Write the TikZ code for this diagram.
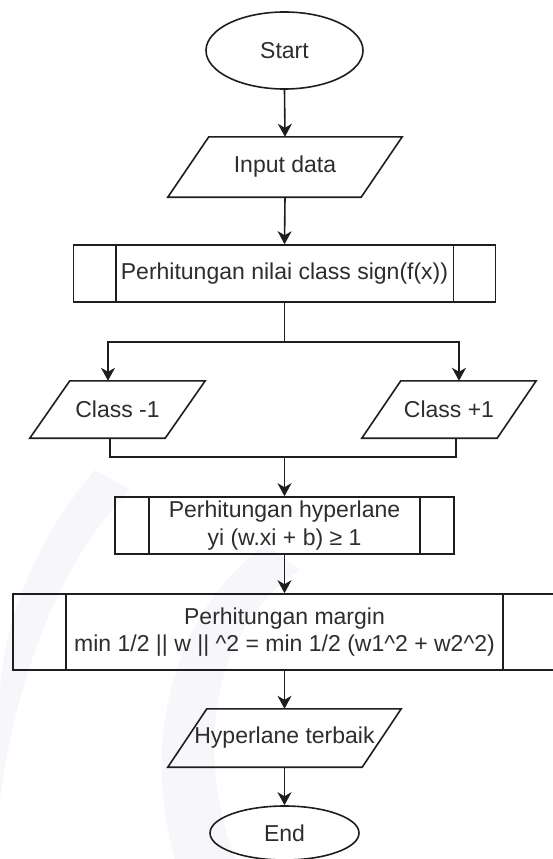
\documentclass[tikz,border=0pt]{standalone}
\usepackage{fontspec}
\setmainfont{Liberation Sans}
\usetikzlibrary{shapes.geometric,arrows.meta,calc}
\definecolor{wmark}{RGB}{247,247,251}
\definecolor{ink}{RGB}{30,30,30}
\definecolor{txt}{RGB}{45,45,45}
\newcommand\mkparal[2]{%
  \draw[lin] ([xshift=#2]#1.north west) -- (#1.north east) -- ([xshift=-#2]#1.south east) -- (#1.south west) -- cycle;}
\newcommand\mkinner[2]{%
  \draw[lin] ([xshift=#2]#1.north west) -- ([xshift=#2]#1.south west);
  \draw[lin] ([xshift=-#2]#1.north east) -- ([xshift=-#2]#1.south east);}
\begin{document}
\begin{tikzpicture}[x=1pt,y=-1pt,
  lin/.style={line width=1.6pt, draw=ink},
  every node/.style={font=\fontsize{23}{27.5}\selectfont, text=txt, align=center, inner sep=0pt},
  term/.style={ellipse, lin},
  proc/.style={rectangle, lin},
  io/.style={rectangle},
  arr/.style={lin, -{Stealth[length=13pt,width=14pt,inset=4pt]}}]
\useasboundingbox (0,0) rectangle (552,859);
\fill[white] (0,0) rectangle (552,859);
% faint watermark
\fill[wmark] (95,470) .. controls (35,540) and (5,620) .. (0,690) -- (0,800) .. controls (15,680) and (60,560) .. (130,490) -- cycle;
\fill[wmark] (265,545) .. controls (175,610) and (140,740) .. (175,859) -- (235,859) .. controls (195,750) and (210,630) .. (300,570) -- cycle;
% nodes
\node[term, minimum width=157pt, minimum height=77pt] (start) at (284.5,50.5) {Start};
\node[io, minimum width=234pt, minimum height=60pt] (input) at (285,167) {Input data};
\mkparal{input}{41pt}
\node[proc, minimum width=422pt, minimum height=57pt] (b1) at (284.5,273.5) {Perhitungan nilai class sign(f(x))};
\mkinner{b1}{43pt}
\node[io, minimum width=175pt, minimum height=57pt] (c1) at (117.5,409.5) {Class -1};
\mkparal{c1}{40pt}
\node[io, minimum width=174pt, minimum height=57pt] (c2) at (449,409.5) {Class +1};
\mkparal{c2}{39pt}
\node[proc, minimum width=339pt, minimum height=57pt] (b2) at (284.5,525.5) {Perhitungan hyperlane\\yi (w.xi + b) \symbol{"2265} 1};
\mkinner{b2}{35pt}
\node[proc, minimum width=543pt, minimum height=76pt] (b3) at (284.5,632) {Perhitungan margin\\min 1/2 || w || \^{}2 = min 1/2 (w1\^{}2 + w2\^{}2)};
\mkinner{b3}{54pt}
\node[io, minimum width=233pt, minimum height=58pt] (ht) at (284.5,738) {Hyperlane terbaik};
\mkparal{ht}{39pt}
\node[term, minimum width=149pt, minimum height=54pt] (end) at (284.5,833) {End};
% connectors
\coordinate (j1) at (284.5,342);
\coordinate (j2) at (284.5,457);
\draw[arr] (start.south) -- (input.north);
\draw[arr] (input.south) -- (b1.north);
\draw[lin] (b1.south) -- (j1);
\draw[arr] (j1) -| ([xshift=-9.5pt]c1.north);
\draw[arr] (j1) -| ([xshift=10pt]c2.north);
\draw[lin] ([xshift=-7.5pt]c1.south) |- (j2) -| ([xshift=7pt]c2.south);
\draw[arr] (j2) -- (b2.north);
\draw[arr] (b2.south) -- (b3.north);
\draw[arr] (b3.south) -- (ht.north);
\draw[arr] (ht.south) -- (end.north);
\end{tikzpicture}
\end{document}
